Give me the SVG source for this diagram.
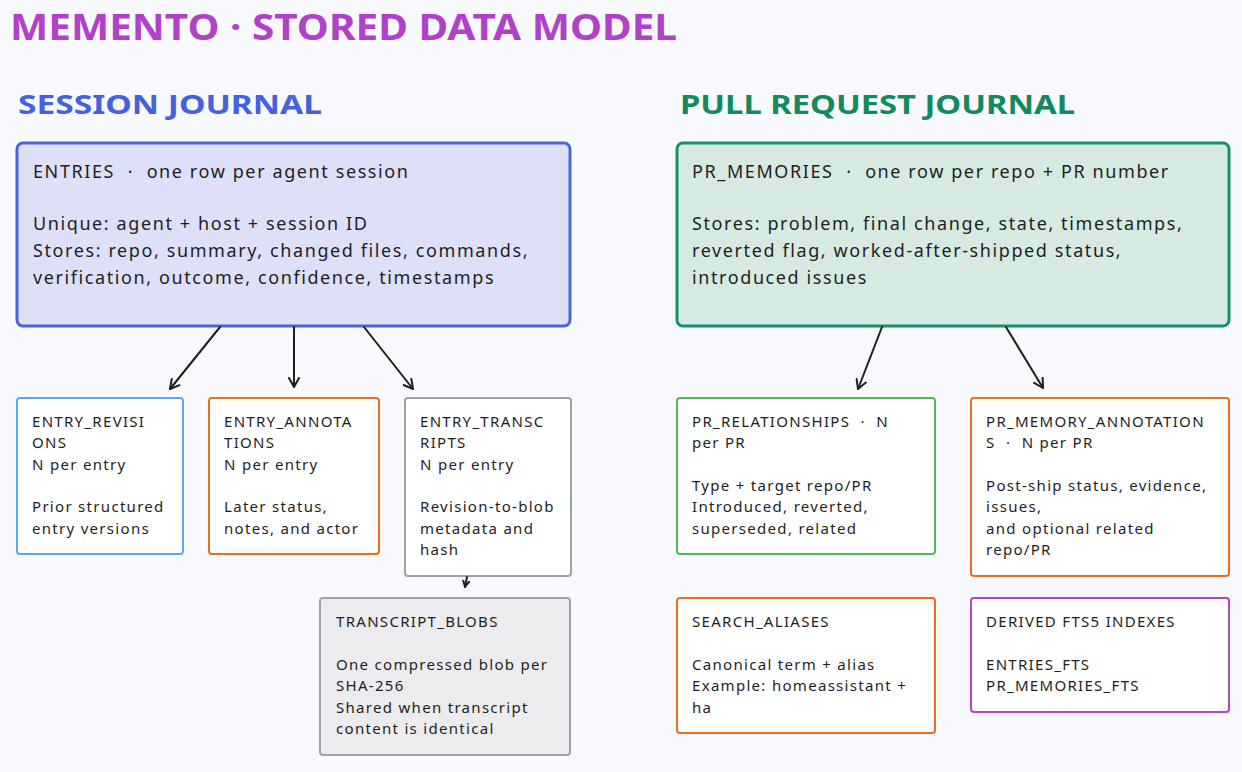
<svg xmlns="http://www.w3.org/2000/svg" width="1242" height="772" viewBox="0 0 1242 772">
<defs>
<marker id="ah" viewBox="0 0 12 12" refX="10" refY="6" markerWidth="12" markerHeight="12" markerUnits="userSpaceOnUse" orient="auto">
<path d="M1,1 L10,6 L1,11" fill="none" stroke="#1e1e1e" stroke-width="2" stroke-linecap="round" stroke-linejoin="round"/>
</marker>
<marker id="ahs" viewBox="0 0 8 8" refX="7" refY="4" markerWidth="8" markerHeight="8" markerUnits="userSpaceOnUse" orient="auto">
<path d="M1,1 L7,4 L1,7" fill="none" stroke="#1e1e1e" stroke-width="2" stroke-linecap="round" stroke-linejoin="round"/>
</marker>
</defs>
<style>
.title{font-family:"Noto Sans","Liberation Sans",sans-serif;font-weight:700;font-size:35px;fill:#b041c9}
.sec{font-family:"Noto Sans","Liberation Sans",sans-serif;font-weight:700;font-size:27px}
.big{font-family:"Noto Sans","Liberation Sans",sans-serif;font-size:18px;fill:#1e1e1e;letter-spacing:1.6px;white-space:pre}
.sm{font-family:"Noto Sans","Liberation Sans",sans-serif;font-size:15px;fill:#1e1e1e;letter-spacing:1.3px;white-space:pre}
.box{fill:#ffffff;stroke-width:2}
.conn line{stroke:#1e1e1e;stroke-width:2;stroke-linecap:round}
</style>
<rect x="0" y="0" width="1242" height="772" fill="#f8f9fc"/>
<text class="title" x="10" y="40" textLength="667" lengthAdjust="spacingAndGlyphs">MEMENTO · STORED DATA MODEL</text>
<text class="sec" x="18" y="114" fill="#4361e0" textLength="304" lengthAdjust="spacingAndGlyphs">SESSION JOURNAL</text>
<text class="sec" x="680" y="114" fill="#128a5e" textLength="395" lengthAdjust="spacingAndGlyphs">PULL REQUEST JOURNAL</text>

<g id="entries">
<rect x="17" y="143" width="553" height="183" rx="6" fill="#dde0f7" stroke="#4a63e0" stroke-width="3"/>
<text class="big" x="33" y="178" xml:space="preserve">ENTRIES  ·  one row per agent session</text>
<text class="big" x="33" y="230">Unique: agent + host + session ID</text>
<text class="big" x="33" y="257">Stores: repo, summary, changed files, commands,</text>
<text class="big" x="33" y="284">verification, outcome, confidence, timestamps</text>
</g>

<g id="pr_memories">
<rect x="677" y="143" width="552" height="183" rx="6" fill="#d6eae2" stroke="#14916a" stroke-width="3"/>
<text class="big" x="692" y="178" xml:space="preserve">PR_MEMORIES  ·  one row per repo + PR number</text>
<text class="big" x="692" y="230">Stores: problem, final change, state, timestamps,</text>
<text class="big" x="692" y="257">reverted flag, worked-after-shipped status,</text>
<text class="big" x="692" y="284">introduced issues</text>
</g>

<g id="entry_revisions">
<rect class="box" x="17" y="398" width="166" height="156" rx="3" stroke="#5aa9f0"/>
<text class="sm" x="32" y="427">ENTRY_REVISI</text>
<text class="sm" x="32" y="448">ONS</text>
<text class="sm" x="32" y="470">N per entry</text>
<text class="sm" x="32" y="512">Prior structured</text>
<text class="sm" x="32" y="534">entry versions</text>
</g>

<g id="entry_annotations">
<rect class="box" x="209" y="398" width="170" height="156" rx="3" stroke="#e86f1f"/>
<text class="sm" x="224" y="427">ENTRY_ANNOTA</text>
<text class="sm" x="224" y="448">TIONS</text>
<text class="sm" x="224" y="470">N per entry</text>
<text class="sm" x="224" y="512">Later status,</text>
<text class="sm" x="224" y="534">notes, and actor</text>
</g>

<g id="entry_transcripts">
<rect class="box" x="405" y="398" width="166" height="178" rx="3" stroke="#9aa2ab"/>
<text class="sm" x="420" y="427">ENTRY_TRANSC</text>
<text class="sm" x="420" y="448">RIPTS</text>
<text class="sm" x="420" y="470">N per entry</text>
<text class="sm" x="420" y="512">Revision-to-blob</text>
<text class="sm" x="420" y="534">metadata and</text>
<text class="sm" x="420" y="555">hash</text>
</g>

<g id="transcript_blobs">
<rect x="320" y="598" width="250" height="157" rx="3" fill="#ececef" stroke="#9aa2ab" stroke-width="2"/>
<text class="sm" x="336" y="627">TRANSCRIPT_BLOBS</text>
<text class="sm" x="336" y="670">One compressed blob per</text>
<text class="sm" x="336" y="691">SHA-256</text>
<text class="sm" x="336" y="713">Shared when transcript</text>
<text class="sm" x="336" y="734">content is identical</text>
</g>

<g id="pr_relationships">
<rect class="box" x="677" y="398" width="258" height="156" rx="3" stroke="#4fb85a"/>
<text class="sm" x="692" y="427" xml:space="preserve">PR_RELATIONSHIPS  ·  N</text>
<text class="sm" x="692" y="448">per PR</text>
<text class="sm" x="692" y="491">Type + target repo/PR</text>
<text class="sm" x="692" y="512">Introduced, reverted,</text>
<text class="sm" x="692" y="534">superseded, related</text>
</g>

<g id="pr_memory_annotations">
<rect class="box" x="971" y="398" width="258" height="178" rx="3" stroke="#e86f1f"/>
<text class="sm" x="986" y="427">PR_MEMORY_ANNOTATION</text>
<text class="sm" x="986" y="448" xml:space="preserve">S  ·  N per PR</text>
<text class="sm" x="986" y="491">Post-ship status, evidence,</text>
<text class="sm" x="986" y="512">issues,</text>
<text class="sm" x="986" y="534">and optional related</text>
<text class="sm" x="986" y="555">repo/PR</text>
</g>

<g id="search_aliases">
<rect class="box" x="677" y="598" width="258" height="135" rx="3" stroke="#e86f1f"/>
<text class="sm" x="692" y="627">SEARCH_ALIASES</text>
<text class="sm" x="692" y="670">Canonical term + alias</text>
<text class="sm" x="692" y="691">Example: homeassistant +</text>
<text class="sm" x="692" y="713">ha</text>
</g>

<g id="derived_fts5">
<rect class="box" x="971" y="598" width="258" height="114" rx="3" stroke="#b441cc"/>
<text class="sm" x="986" y="627">DERIVED FTS5 INDEXES</text>
<text class="sm" x="986" y="670">ENTRIES_FTS</text>
<text class="sm" x="986" y="691">PR_MEMORIES_FTS</text>
</g>

<g id="connectors" class="conn">
<line x1="220" y1="327" x2="170" y2="389" marker-end="url(#ah)"/>
<line x1="294" y1="327" x2="294" y2="387" marker-end="url(#ah)"/>
<line x1="364" y1="327" x2="413" y2="389" marker-end="url(#ah)"/>
<line x1="467" y1="577" x2="465" y2="587" marker-end="url(#ahs)"/>
<line x1="882" y1="327" x2="858" y2="389" marker-end="url(#ah)"/>
<line x1="1006" y1="327" x2="1043" y2="388" marker-end="url(#ah)"/>
</g>
</svg>
